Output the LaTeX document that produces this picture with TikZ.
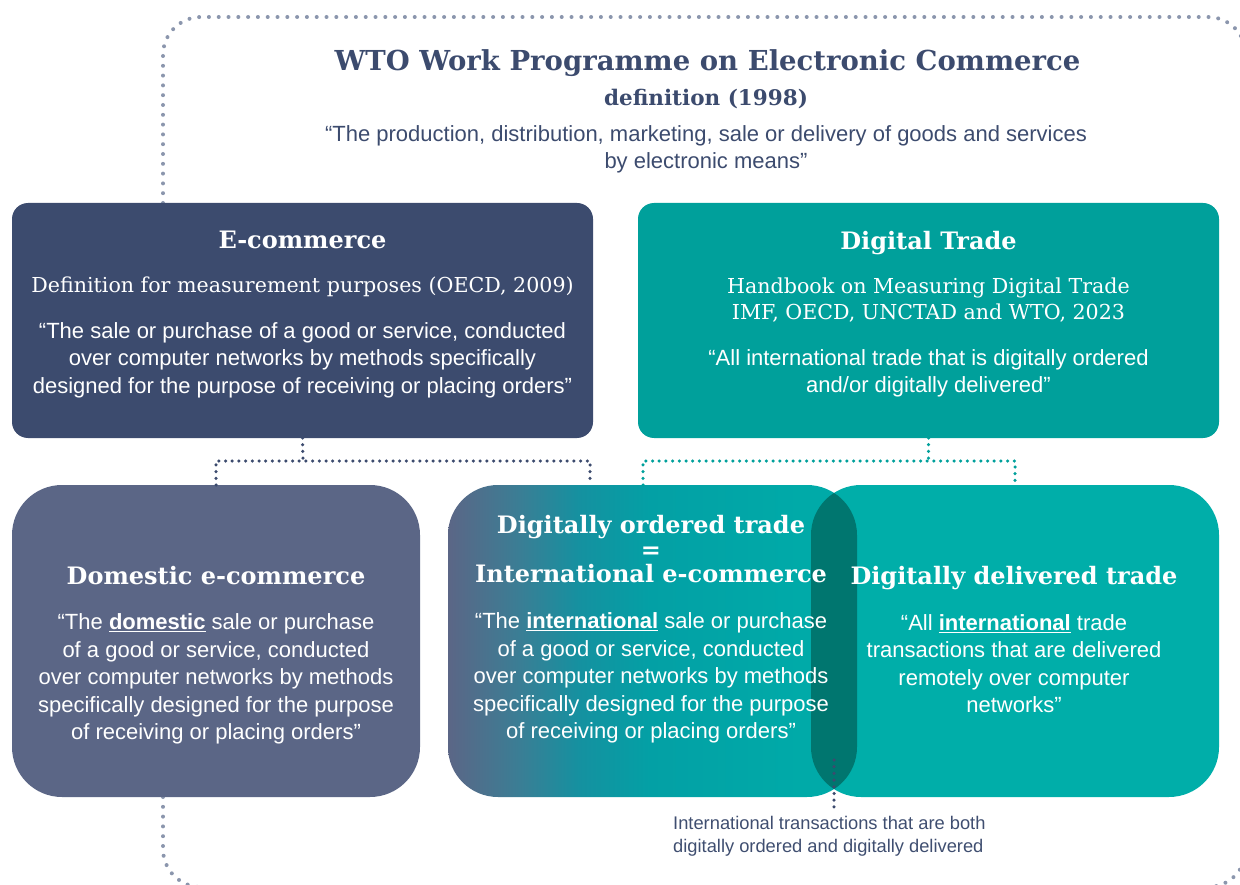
\documentclass[tikz,border=0pt]{standalone}
\usepackage{fontspec}
\setmainfont{Liberation Sans}
\newfontfamily\slab{DejaVu Serif}
\definecolor{cNavy}{HTML}{3C4B6E}
\definecolor{cTealA}{HTML}{00A09B}
\definecolor{cSlate}{HTML}{5B6686}
\definecolor{cTealB}{HTML}{00AEA9}
\definecolor{cLens}{HTML}{00766F}
\definecolor{cFrame}{HTML}{8B96AD}
\definecolor{cNote}{HTML}{3F4E70}
\definecolor{gA}{HTML}{3A7E95}
\definecolor{gB}{HTML}{1591A0}
\definecolor{gC}{HTML}{03A0A5}
\definecolor{gD}{HTML}{00AAA8}
\pgfdeclarehorizontalshading{ordshade}{100bp}{color(0bp)=(cSlate); color(25bp)=(cSlate); color(33.8bp)=(gA); color(41bp)=(gB); color(49.7bp)=(gC); color(68bp)=(gD); color(100bp)=(gD)}
\tikzset{
  box/.style={rectangle, inner sep=0pt, outer sep=0pt, draw=none},
  frame/.style={draw=cFrame, line width=4pt, line cap=round, dash pattern=on 0pt off 9.8pt, rounded corners=38pt},
  navdots/.style={draw=cNavy, line width=3.5pt, line cap=round, dash pattern=on 0pt off 6.7pt},
  tealdots/.style={draw=cTealA, line width=3.5pt, line cap=round, dash pattern=on 0pt off 6.7pt},
  hd/.style={font=\slab\bfseries\fontsize{24}{24.5}\selectfont, text=white, align=center, inner sep=0pt},
  subhd/.style={font=\slab\fontsize{20.6}{26}\selectfont, text=white, align=center, inner sep=0pt},
  qt/.style={font=\fontsize{22}{27.4}\selectfont, text=white, align=center, inner sep=0pt},
}
\begin{document}
\begin{tikzpicture}[x=1pt,y=-1pt]
\useasboundingbox (0,0) rectangle (1240,885);
% outer dotted frame
\draw[frame] (163,203) -- (163,17) -- (1246,17) -- (1246,300);
\draw[frame] (163,797) -- (163,887) -- (1246,887) -- (1246,700);
% boxes
\node[box, fill=cNavy, rounded corners=16pt, minimum width=581pt, minimum height=235pt] (ecom) at (302.5,320.5) {};
\node[box, fill=cTealA, rounded corners=16pt, minimum width=581pt, minimum height=235pt] (dig) at (928.5,320.5) {};
\node[box, fill=cSlate, rounded corners=50pt, minimum width=408pt, minimum height=312pt] (dom) at (216,641) {};
\node[box, shading=ordshade, rounded corners=50pt, minimum width=409pt, minimum height=312pt] (ord) at (652.5,641) {};
\node[box, fill=cTealB, rounded corners=50pt, minimum width=408pt, minimum height=312pt] (del) at (1015,641) {};
\begin{scope}
  \clip[rounded corners=50pt] (ord.south west) rectangle (ord.north east);
  \fill[cLens, rounded corners=50pt] (del.south west) rectangle (del.north east);
\end{scope}
% connectors
\coordinate (lj) at (303,461);
\coordinate (ordL) at ([xshift=-62.5pt]ord.north);
\draw[navdots] (ecom.south) -- (lj);
\draw[navdots] (dom.north) -- (dom.north |- lj) -- (ordL |- lj) -- (ordL);
\coordinate (rj) at (928.5,461);
\coordinate (ordR) at ([xshift=-9.5pt]ord.north);
\draw[tealdots] (dig.south) -- (rj);
\draw[tealdots] (ordR) -- (ordR |- rj) -- (del.north |- rj) -- (del.north);
% title
\node[font=\slab\bfseries\fontsize{27.5}{30}\selectfont, text=cNavy, inner sep=0pt] (title) at (707.5,63) {WTO Work Programme on Electronic Commerce};
\node[font=\slab\bfseries\fontsize{21.5}{24}\selectfont, text=cNavy, inner sep=0pt] (defn) at (706,99) {definition (1998)};
\node[qt, text=cNavy] (wtoq) at (706,149.5) {“The production, distribution, marketing, sale or delivery of goods and services\\by electronic means”};
% E-commerce box
\node[hd] (ecomh) at (302.5,240) {E-commerce};
\node[subhd] (ecoms) at (302.5,287) {Definition for measurement purposes (OECD, 2009)};
\node[qt] (ecomq) at (302.5,360) {“The sale or purchase of a good or service, conducted\\over computer networks by methods specifically\\designed for the purpose of receiving or placing orders”};
% Digital trade box
\node[hd] (digh) at (928.5,243) {Digital Trade};
\node[subhd] (digs) at (928.5,300) {Handbook on Measuring Digital Trade\\IMF, OECD, UNCTAD and WTO, 2023};
\node[qt] (digq) at (928.5,373.5) {“All international trade that is digitally ordered\\and/or digitally delivered”};
% Domestic
\node[hd] (domh) at (216,576) {Domestic e-commerce};
\node[qt] (domq) at (216,679) {“The \underline{\textbf{domestic}} sale or purchase\\of a good or service, conducted\\over computer networks by methods\\specifically designed for the purpose\\of receiving or placing orders”};
% Ordered
\node[hd] (ordh) at (651,549.5) {Digitally ordered trade\\=\\International e-commerce};
\node[qt] (ordq) at (651,678) {“The \underline{\textbf{international}} sale or purchase\\of a good or service, conducted\\over computer networks by methods\\specifically designed for the purpose\\of receiving or placing orders”};
% Delivered
\node[hd] (delh) at (1014,578) {Digitally delivered trade};
\node[qt] (delq) at (1014,663.5) {“All \underline{\textbf{international}} trade\\transactions that are delivered\\remotely over computer\\networks”};
% note
\coordinate (lensb) at (834,760);
\node[font=\fontsize{18.3}{23}\selectfont, text=cNote, align=left, inner sep=0pt, anchor=west] (note) at (673,836.5) {International transactions that are both\\digitally ordered and digitally delivered};
\draw[navdots] (lensb) -- (lensb |- 0,808);
\end{tikzpicture}
\end{document}
